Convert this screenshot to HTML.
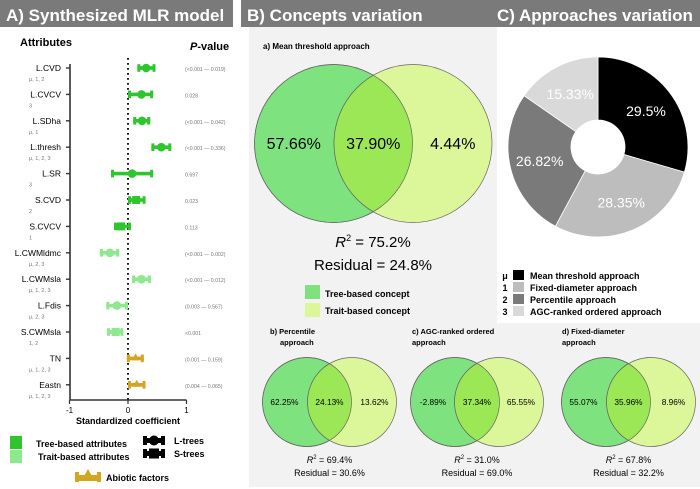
<!DOCTYPE html>
<html><head><meta charset="utf-8"><style>
body{margin:0;background:#fff;font-family:"Liberation Sans",sans-serif}
#root{position:relative;width:700px;height:489px;overflow:hidden}
</style></head><body>
<div id="root">
<svg id="svg" width="700" height="489" xmlns="http://www.w3.org/2000/svg" font-family="Liberation Sans, sans-serif">
<rect x="0" y="0" width="233" height="27" fill="#7a7a7a"/>
<text x="6" y="21" fill="#fff" font-size="17" font-weight="bold">A) Synthesized MLR model</text>
<rect x="241" y="0" width="459" height="27" fill="#7a7a7a"/>
<text x="247" y="21" fill="#fff" font-size="17" font-weight="bold">B) Concepts variation</text>
<text x="497" y="21" fill="#fff" font-size="17" font-weight="bold">C) Approaches variation</text>
<rect x="249" y="27" width="248" height="296" fill="#f2f2f2"/>
<rect x="249" y="323" width="451" height="164" fill="#f2f2f2"/>

<!-- Panel A -->
<text x="20" y="46" font-size="11" font-weight="bold">Attributes</text>
<text x="190" y="50" font-size="11" font-weight="bold"><tspan font-style="italic">P</tspan>-value</text>
<g id="forest"></g>
<rect x="10" y="436" width="12" height="13" fill="#2ec52e"/>
<text x="36" y="447" font-size="9" font-weight="bold">Tree-based attributes</text>
<rect x="10" y="450" width="12" height="13" fill="#8ee88e"/>
<text x="38" y="460" font-size="9" font-weight="bold">Trait-based attributes</text>
<g><rect x="143" y="438" width="22" height="5" fill="#000"/><rect x="143" y="436" width="4" height="9" fill="#000"/><rect x="161" y="436" width="4" height="9" fill="#000"/><circle cx="154" cy="440.5" r="5" fill="#000"/></g>
<text x="174" y="444" font-size="9" font-weight="bold">L-trees</text>
<g><rect x="143" y="451" width="22" height="5" fill="#000"/><rect x="143" y="449" width="4" height="9" fill="#000"/><rect x="161" y="449" width="4" height="9" fill="#000"/><rect x="149" y="448.5" width="10" height="10" fill="#000"/></g>
<text x="174" y="457" font-size="9" font-weight="bold">S-trees</text>
<g><rect x="75" y="475" width="26" height="6" fill="#d4a520"/><rect x="75" y="472" width="4" height="10" fill="#d4a520"/><rect x="97" y="472" width="4" height="10" fill="#d4a520"/><polygon points="83,478 88,469 93,478" fill="#d4a520"/></g>
<text x="106" y="481" font-size="9" font-weight="bold">Abiotic factors</text>

<!-- Panel B main venn -->
<text x="263" y="49" font-size="8" font-weight="bold">a) Mean threshold approach</text>
<g id="vennMain"></g>
<text x="373" y="247" font-size="15" text-anchor="middle"><tspan font-style="italic">R</tspan><tspan font-size="9" dy="-6">2</tspan><tspan dy="6"> = 75.2%</tspan></text>
<text x="373" y="270" font-size="15" text-anchor="middle">Residual = 24.8%</text>
<rect x="305" y="285" width="15" height="14" fill="#7ee37e"/>
<text x="325" y="297" font-size="9" font-weight="bold">Tree-based concept</text>
<rect x="305" y="303" width="15" height="14" fill="#dcf79a"/>
<text x="325" y="314" font-size="9" font-weight="bold">Trait-based concept</text>

<!-- Panel C -->
<g id="pie"></g>
<g id="pieLegend"></g>

<!-- bottom venns -->
<text x="270" y="334" font-size="7.5" font-weight="bold">b) Percentile</text>
<text x="280" y="345" font-size="7.5" font-weight="bold">approach</text>
<text x="412" y="334" font-size="7.5" font-weight="bold">c) AGC-ranked ordered</text>
<text x="412" y="345" font-size="7.5" font-weight="bold">approach</text>
<text x="562" y="334" font-size="7.5" font-weight="bold">d) Fixed-diameter</text>
<text x="562" y="345" font-size="7.5" font-weight="bold">approach</text>
<g id="vennSmall"></g>
</svg>
</div>
<script>
const NS='http://www.w3.org/2000/svg';
function mk(tag,attrs,parent,txt){const e=document.createElementNS(NS,tag);for(const k in attrs)e.setAttribute(k,attrs[k]);if(txt!==undefined)e.textContent=txt;parent.appendChild(e);return e;}

// ---- forest plot data
const attrNames=['L.CVD','L.CVCV','L.SDha','L.thresh','L.SR','S.CVD','S.CVCV','L.CWMldmc','L.CWMsla','L.Fdis','S.CWMsla','TN','Eastn'];
const attrSubs=['μ, 1, 2','3','μ, 1','μ, 1, 2, 3','3','2','1','μ, 2, 3','μ, 1, 2, 3','μ, 2, 3','1, 2','μ, 1, 2, 3','μ, 1, 2, 3'];
const coefEst=[0.31,0.23,0.24,0.57,0.07,0.14,-0.12,-0.31,0.23,-0.19,-0.21,0.13,0.15];
const coefLow=[0.16,0.0,0.09,0.40,-0.29,0.0,-0.24,-0.48,0.07,-0.37,-0.36,-0.02,0.0];
const coefHigh=[0.47,0.43,0.38,0.74,0.43,0.30,0.05,-0.15,0.39,0.0,-0.08,0.27,0.30];
const attrGroup=['tree','tree','tree','tree','tree','tree','tree','trait','trait','trait','trait','abiotic','abiotic'];
const attrShape=['L','L','L','L','L','S','S','L','L','L','S','A','A'];
const pValues=['(<0.001 — 0.019)','0.028','(<0.001 — 0.042)','(<0.001 — 0.336)','0.697','0.023','0.113','(<0.001 — 0.002)','(<0.001 — 0.012)','(0.003 — 0.567)','<0.001','(0.001 — 0.159)','(0.004 — 0.065)'];
const xTicks=[-1,0,1];

const fx=v=>128+v*58.5;
const fy=i=>68+i*26.4;
const groupColor={tree:'#2ec52e',trait:'#8ee88e',abiotic:'#d4a520'};
const F=document.getElementById('forest');
let el;
el=mk('line',{x1:70,y1:64,x2:70,y2:400,stroke:'#333','stroke-width':1.6},F);


el=mk('line',{x1:fx(0),y1:58,x2:fx(0),y2:400,stroke:'#000','stroke-width':1.8,'stroke-dasharray':'1.8 3.2'},F);


el=mk('line',{x1:fx(-1),y1:400,x2:fx(1),y2:400,stroke:'#333','stroke-width':1.4},F);


xTicks.forEach(t=>{
  el=mk('line',{x1:fx(t),y1:400,x2:fx(t),y2:404,stroke:'#333','stroke-width':1.2},F);
  
  
  el=mk('text',{x:fx(t),y:413,'font-size':8,'text-anchor':'middle'},F,String(t));
  
  
});
el=mk('text',{x:128,y:424,'font-size':9,'font-weight':'bold','text-anchor':'middle'},F,'Standardized coefficient');


attrNames.forEach((n,i)=>{
  const y=fy(i),c=groupColor[attrGroup[i]];
  el=mk('line',{x1:66,y1:y,x2:70,y2:y,stroke:'#333','stroke-width':1.4},F);
  
  
  el=mk('text',{x:61,y:y+3,'font-size':8.5,'text-anchor':'end'},F,n);
  
  
  el=mk('text',{x:29,y:y+13,'font-size':5.5,fill:'#777'},F,attrSubs[i]);
  
  
  el=mk('text',{x:185,y:y+3,'font-size':5.2,fill:'#777'},F,pValues[i]);
  
  
  const g=mk('g',{fill:c},F);
  
  
  const x1=fx(coefLow[i]),x2=fx(coefHigh[i]),xm=fx(coefEst[i]);
  mk('rect',{x:x1,y:y-1.8,width:x2-x1,height:3.6},g);
  mk('rect',{x:x1,y:y-3.8,width:3,height:7.6},g);
  mk('rect',{x:x2-3,y:y-3.8,width:3,height:7.6},g);
  if(attrShape[i]==='L')mk('circle',{cx:xm,cy:y,r:4.3},g);
  else if(attrShape[i]==='S')mk('rect',{x:xm-4,y:y-4,width:8,height:8},g);
  else mk('polygon',{points:`${xm-4},${y+2} ${xm},${y-5} ${xm+4},${y+2}`},g);
});

// ---- Venn diagrams
const vennLabels=['a','b','c','d'];
const vennTree=['57.66%','62.25%','-2.89%','55.07%'];
const vennShared=['37.90%','24.13%','37.34%','35.96%'];
const vennTrait=['4.44%','13.62%','65.55%','8.96%'];
const vennR2=['75.2%','69.4%','31.0%','67.8%'];
const vennResidual=['24.8%','30.6%','69.0%','32.2%'];

function venn(parent,cx1,cx2,cy,r,fs,i){
  const id='clip'+i;
  const defs=mk('defs',{},parent);
  const cp=mk('clipPath',{id:id},defs);
  mk('circle',{cx:cx1,cy:cy,r:r},cp);
  el=mk('circle',{cx:cx1,cy:cy,r:r,fill:'#7ee37e',stroke:'#666','stroke-width':0.7},parent);
  
  
  el=mk('circle',{cx:cx2,cy:cy,r:r,fill:'#dcf79a',stroke:'#666','stroke-width':0.7},parent);
  
  
  el=mk('circle',{cx:cx2,cy:cy,r:r,fill:'#9be756',stroke:'#666','stroke-width':0.7,'clip-path':`url(#${id})`},parent);
  
  
  mk('circle',{cx:cx1,cy:cy,r:r,fill:'none',stroke:'#666','stroke-width':0.7},parent);
  const mid=(cx1+cx2)/2,ty=cy+fs*0.35;
  el=mk('text',{x:(cx1-r+cx2-r)/2+ (cx1-cx2)*0.02+ (mid-r - (cx1-r))/2*0+ (cx1-(cx2-cx1)/2)-(cx1-r+cx2-r)/2,y:ty,'font-size':fs,'text-anchor':'middle'},parent,vennTree[i]);
  el.setAttribute('x',cx1-(cx2-cx1)*0.5);
  
  
  el=mk('text',{x:mid,y:ty,'font-size':fs,'text-anchor':'middle'},parent,vennShared[i]);
  
  
  el=mk('text',{x:cx2+(cx2-cx1)*0.5,y:ty,'font-size':fs,'text-anchor':'middle'},parent,vennTrait[i]);
  
  
}
venn(document.getElementById('vennMain'),333.5,413,143.5,79,16,0);
const VS=document.getElementById('vennSmall');
const smallPos=[[307,352],[455,499],[606,651]];
smallPos.forEach((p,k)=>{
  const i=k+1;
  const g=mk('g',{},VS);
  
  
  venn(g,p[0],p[1],402,44.5,8.3,i);
  const mid=(p[0]+p[1])/2;
  el=mk('text',{x:mid,y:463,'font-size':9,'text-anchor':'middle'},g);
  el.innerHTML=`<tspan font-style="italic">R</tspan><tspan font-size="6" dy="-4">2</tspan><tspan dy="4"> = ${vennR2[i]}</tspan>`;
  
  
  el=mk('text',{x:mid,y:476,'font-size':9,'text-anchor':'middle'},g,'Residual = '+vennResidual[i]);
  
  
});

// ---- Donut
const pieNames=['Mean threshold approach','Fixed-diameter approach','Percentile approach','AGC-ranked ordered approach'];
const pieKeys=['μ','1','2','3'];
const pieValues=[29.5,28.35,26.82,15.33];
const pieLabels=['29.5%','28.35%','26.82%','15.33%'];
const pieColors=['#000','#bdbdbd','#7a7a7a','#d9d9d9'];
const P=document.getElementById('pie');
const pcx=598,pcy=147,R=90,r0=27;
const tot=pieValues.reduce((a,b)=>a+b,0);
let ang=-Math.PI/2;
pieValues.forEach((v,i)=>{
  const a0=ang,a1=ang+v/tot*2*Math.PI;ang=a1;
  const large=(a1-a0)>Math.PI?1:0;
  const pt=(rr,a)=>[pcx+rr*Math.cos(a),pcy+rr*Math.sin(a)];
  const [x0,y0]=pt(R,a0),[x1,y1]=pt(R,a1),[x2,y2]=pt(r0,a1),[x3,y3]=pt(r0,a0);
  el=mk('path',{d:`M${x0},${y0}A${R},${R} 0 ${large} 1 ${x1},${y1}L${x2},${y2}A${r0},${r0} 0 ${large} 0 ${x3},${y3}Z`,fill:pieColors[i],stroke:'#fff','stroke-width':0.8},P);
  
  
  const am=(a0+a1)/2,[lx,ly]=pt(60,am);
  el=mk('text',{x:lx,y:ly+5,'font-size':14,fill:'#fff','text-anchor':'middle'},P,pieLabels[i]);
  
  
});
const PL=document.getElementById('pieLegend');
pieNames.forEach((n,i)=>{
  const y=275+i*12;
  el=mk('text',{x:505,y:y+4,'font-size':9,'font-weight':'bold','text-anchor':'middle'},PL,pieKeys[i]);
  
  
  el=mk('rect',{x:513,y:y-5,width:11,height:10,fill:pieColors[i]},PL);
  
  
  el=mk('text',{x:530,y:y+4,'font-size':9,'font-weight':'bold'},PL,n);
  
  
});
</script>
</body></html>
